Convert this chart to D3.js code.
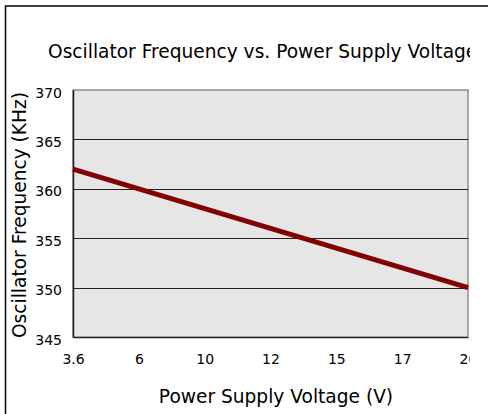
<!DOCTYPE html>
<html>
<head>
<meta charset="utf-8">
<script src="https://cdn.jsdelivr.net/npm/d3@7"></script>
<style>
  body { margin: 0; background: #fff; }
  text { font-family: "DejaVu Sans", Verdana, sans-serif; fill: #000; }
</style>
</head>
<body>
<div id="chart"></div>
<script>
var voltages = ['3.6', '6', '10', '12', '15', '17', '20'];
var frequency = [362, 360, 358, 356, 354, 352, 350];
var yTicks = [345, 350, 355, 360, 365, 370];

var width = 488, height = 414;
var plot = {left: 73, right: 468, top: 90, bottom: 337};

var svg = d3.select('#chart').append('svg')
    .attr('width', width)
    .attr('height', height);

// text gets cut off at the right like in the original export
svg.append('clipPath')
    .attr('id', 'textclip')
  .append('rect')
    .attr('x', 0).attr('y', 0)
    .attr('width', 470).attr('height', height);

// outer frame, only left and top show
svg.append('rect')
    .attr('x', 5.5).attr('y', 6)
    .attr('width', 600).attr('height', 600)
    .attr('fill', 'none')
    .attr('stroke', '#111')
    .attr('stroke-width', 1.6);

var x = d3.scalePoint()
    .domain(voltages)
    .range([plot.left, plot.right]);

var y = d3.scaleLinear()
    .domain([345, 370])
    .range([plot.bottom, plot.top]);

svg.append('rect')
    .attr('x', plot.left).attr('y', plot.top)
    .attr('width', plot.right - plot.left)
    .attr('height', plot.bottom - plot.top)
    .attr('fill', '#e6e6e6')
    .attr('stroke', '#8c8c8c')
    .attr('stroke-width', 1.5);

// gridlines
svg.append('g')
    .selectAll('line')
    .data(yTicks.filter(function(d) { return d > 345 && d < 370; }))
    .enter()
    .append('line')
    .attr('x1', plot.left)
    .attr('x2', plot.right)
    .attr('y1', function(d) { return Math.round(y(d)) + 0.5; })
    .attr('y2', function(d) { return Math.round(y(d)) + 0.5; })
    .attr('stroke', '#222')
    .attr('stroke-width', 1);

// y axis
var yAxis = svg.append('g')
    .attr('transform', 'translate(' + plot.left + ',0)')
    .call(d3.axisLeft(y).tickValues(yTicks).tickSize(0).tickPadding(11));
yAxis.select('.domain').attr('stroke', '#222').attr('stroke-width', 1.5);
yAxis.selectAll('text')
    .attr('font-size', 14)
    .attr('font-family', '"DejaVu Sans", Verdana, sans-serif')
    .attr('dy', '0.5em');

// x axis, ticks point inward
var xAxis = svg.append('g')
    .attr('transform', 'translate(0,' + plot.bottom + ')')
    .attr('clip-path', 'url(#textclip)')
    .call(d3.axisBottom(x).tickSizeInner(-4).tickSizeOuter(0).tickPadding(17));
xAxis.select('.domain').attr('stroke', '#222').attr('stroke-width', 1.5);
xAxis.selectAll('.tick line').attr('stroke', '#222');
xAxis.selectAll('text')
    .attr('font-size', 14)
    .attr('font-family', '"DejaVu Sans", Verdana, sans-serif');

var line = d3.line()
    .x(function(d, i) { return x(voltages[i]); })
    .y(function(d) { return y(d); });

svg.append('path')
    .datum(frequency)
    .attr('fill', 'none')
    .attr('stroke', '#850000')
    .attr('stroke-width', 5)
    .attr('d', line);

svg.append('text')
    .attr('clip-path', 'url(#textclip)')
    .attr('x', 48)
    .attr('y', 58)
    .attr('font-size', 18.6)
    .text('Oscillator Frequency vs. Power Supply Voltage');

svg.append('text')
    .attr('transform', 'translate(25.5,' + ((plot.top + plot.bottom) / 2 + 1.5) + ') rotate(-90)')
    .attr('text-anchor', 'middle')
    .attr('font-size', 18.6)
    .text('Oscillator Frequency (KHz)');

svg.append('text')
    .attr('x', 276)
    .attr('y', 403)
    .attr('text-anchor', 'middle')
    .attr('font-size', 18.6)
    .text('Power Supply Voltage (V)');
</script>
</body>
</html>
